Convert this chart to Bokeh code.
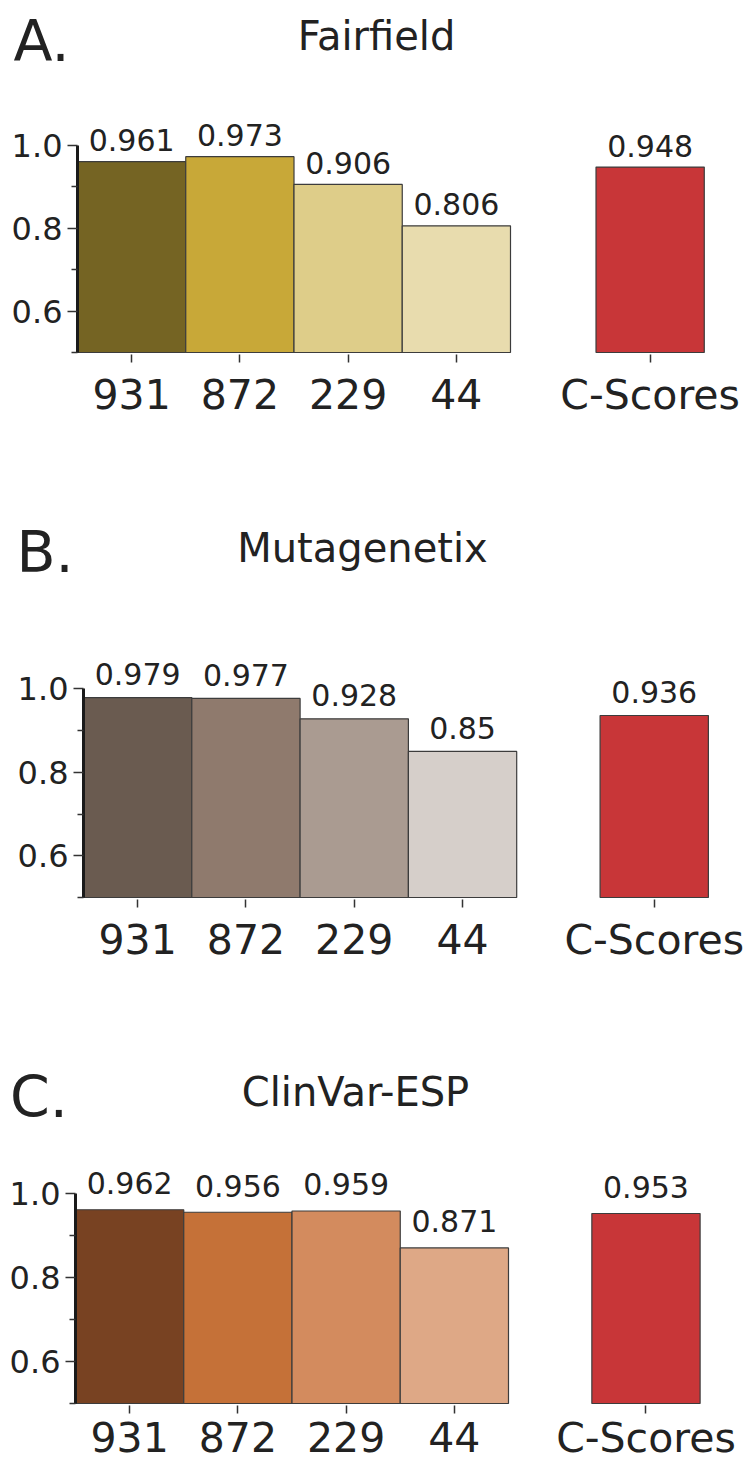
from bokeh.plotting import figure
from bokeh.layouts import column
from bokeh.models import FixedTicker, Label, PrintfTickFormatter
from bokeh.core.properties import value
from bokeh.embed import file_html
from bokeh.resources import INLINE

# ---------------- data ----------------
categories = ["931", "872", "229", "44"]
cscore_label = "C-Scores"
panel_letters = ["A.", "B.", "C."]
panel_titles = ["Fairfield", "Mutagenetix", "ClinVar-ESP"]
fairfield = [0.961, 0.973, 0.906, 0.806]
mutagenetix = [0.979, 0.977, 0.928, 0.85]
clinvar_esp = [0.962, 0.956, 0.959, 0.871]
cscores = [0.948, 0.936, 0.953]

# ---------------- styles ----------------
FONT_NAME = "DejaVu Sans"
FONT = value(FONT_NAME)
TXT = "#222222"
palettes = [
    ["#756423", "#c8a838", "#decd89", "#e8dcae"],
    ["#6a5b50", "#8f7a6d", "#aa9b91", "#d6cfca"],
    ["#784222", "#c57138", "#d38b5e", "#dea886"],
]
CS_COLOR = "#c83638"
MID = 0.35  # distance (in em) from baseline up to the text middle

# layout geometry per panel, in page pixels
geoms = [
    dict(fig_top=0, fig_h=470, frame_left=77, frame_bottom=352, tick1=145, bar_w=108.25,
         cpos=4.79, letter_x=13, letter_base=60, title_cx=376, title_base=49.5, gap=11,
         xstand=8),
    dict(fig_top=470, fig_h=540, frame_left=83, frame_bottom=897, tick1=688.3, bar_w=108.3,
         cpos=4.77, letter_x=16, letter_base=571.5, title_cx=362, title_base=561.7, gap=13,
         xstand=8),
    dict(fig_top=1010, fig_h=453, frame_left=75, frame_bottom=1403, tick1=1193.3, bar_w=108.25,
         cpos=4.77, letter_x=9.5, letter_base=1116.7, title_cx=355, title_base=1105, gap=16,
         xstand=0),
]
PAGE_W = 746


def make_panel(letter, title, vals, cs, colors, g):
    scale = (g["frame_bottom"] - g["tick1"]) / 0.5

    def dx(px):
        return -0.5 + (px - g["frame_left"]) / g["bar_w"]

    def dy(py):
        return 0.5 + (g["frame_bottom"] - py) / scale

    top, bot = g["fig_top"], g["fig_top"] + g["fig_h"]
    p = figure(width=PAGE_W, height=g["fig_h"], x_range=(dx(0), dx(PAGE_W)),
               y_range=(dy(bot), dy(top)), output_backend="svg", toolbar_location=None,
               min_border_left=0, min_border_right=0, min_border_top=0, min_border_bottom=0)
    p.outline_line_color = None
    p.xgrid.grid_line_color = None
    p.ygrid.grid_line_color = None
    p.background_fill_color = "white"
    p.border_fill_color = "white"

    xs = list(range(len(categories))) + [g["cpos"]]
    tops = list(vals) + [cs]
    fills = list(colors) + [CS_COLOR]
    p.vbar(x=xs, top=tops, bottom=0.5, width=1.0, fill_color=fills,
           line_color="#3c3c3c", line_width=1.2)

    # value labels
    p.text(x=xs, y=[t + (g["gap"] + MID * 30) / scale for t in tops],
           text=[f"{t:g}" for t in tops],
           text_align="center", text_baseline="middle", text_font=FONT,
           text_font_size="30px", text_color=TXT)

    # y axis (drawn at the left edge of the first bar)
    ya = p.yaxis[0]
    ya.fixed_location = -0.5
    ya.ticker = FixedTicker(ticks=[0.6, 0.8, 1.0], minor_ticks=[0.5, 0.7, 0.9])
    ya.formatter = PrintfTickFormatter(format="%.1f")
    ya.bounds = (0.5, 1.0)
    ya.axis_line_width = 3
    ya.axis_line_color = "#1a1a1a"
    ya.major_tick_in = 0
    ya.major_tick_out = 10
    ya.minor_tick_in = 0
    ya.minor_tick_out = 6
    ya.major_tick_line_color = "#333333"
    ya.minor_tick_line_color = "#333333"
    ya.major_tick_line_width = 1.5
    ya.minor_tick_line_width = 1.5
    ya.major_label_text_font = FONT_NAME
    ya.major_label_text_font_size = "32px"
    ya.major_label_text_color = TXT
    ya.major_label_standoff = 5

    # x axis (drawn at the bars' base)
    xa = p.xaxis[0]
    xa.fixed_location = 0.5
    xa.ticker = FixedTicker(ticks=xs, minor_ticks=[])
    overrides = {float(i): c for i, c in enumerate(categories)}
    overrides[float(g["cpos"])] = cscore_label
    xa.major_label_overrides = overrides
    xa.axis_line_color = None
    xa.major_tick_in = -2
    xa.major_tick_out = 10
    xa.minor_tick_out = 0
    xa.minor_tick_in = 0
    xa.major_tick_line_color = "#333333"
    xa.major_tick_line_width = 1.5
    xa.major_label_text_font = FONT_NAME
    xa.major_label_text_font_size = "41px"
    xa.major_label_text_color = TXT
    xa.major_label_standoff = g["xstand"]

    # panel letter and title
    p.add_layout(Label(x=dx(g["letter_x"]), y=dy(g["letter_base"] - MID * 57), text=letter,
                       text_align="left", text_baseline="middle", text_font=FONT_NAME,
                       text_font_size="57px", text_color=TXT))
    p.add_layout(Label(x=dx(g["title_cx"]), y=dy(g["title_base"] - MID * 40), text=title,
                       text_align="center", text_baseline="middle", text_font=FONT_NAME,
                       text_font_size="40px", text_color=TXT))
    return p


series = [fairfield, mutagenetix, clinvar_esp]
plots = [make_panel(panel_letters[i], panel_titles[i], series[i], cscores[i], palettes[i], geoms[i])
         for i in range(3)]

layout = column(*plots, spacing=0)
open("out.html", "w").write(file_html(layout, INLINE))
